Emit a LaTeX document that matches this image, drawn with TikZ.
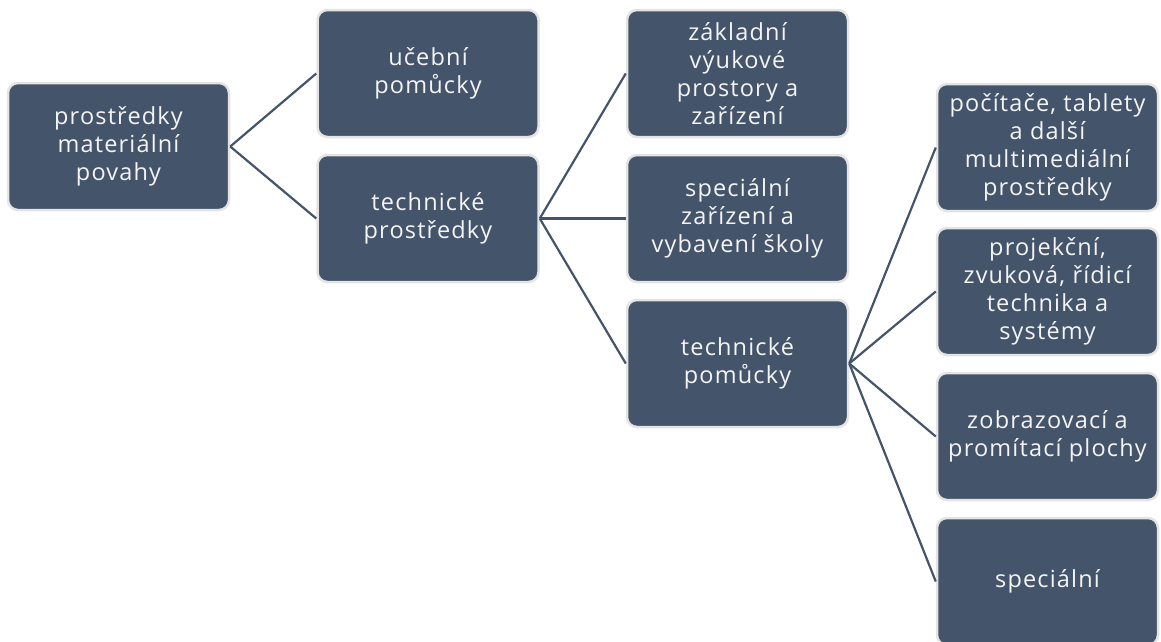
\documentclass[tikz,border=0pt]{standalone}
\usepackage{fontspec}
\setmainfont{Open Sans}[LetterSpace=5]
\definecolor{slate}{HTML}{44546A}
\definecolor{rim}{HTML}{E4E4E4}
\definecolor{label}{HTML}{F4F4F4}
\begin{document}
\begin{tikzpicture}[x=1pt,y=-1pt,
  box/.style={rectangle, rounded corners=10pt, fill=slate, draw=rim, line width=2.5pt,
    minimum width=221pt, minimum height=127pt, inner sep=0pt, align=center,
    text=label, font=\fontsize{23.5}{28}\selectfont},
  link/.style={draw=slate, line width=2.2pt}]
\clip (0,0) rectangle (1161,641);
% first level
\node[box] (A) at (118.5,146.5) {prostředky\\materiální\\povahy};
% second level
\node[box] (B) at (428,73.5) {učební\\pomůcky};
\node[box] (C) at (428,218.5) {technické\\prostředky};
% third level
\node[box] (D) at (737.5,73.5) {základní\\výukové\\prostory a\\zařízení};
\node[box] (E) at (737.5,218.5) {speciální\\zařízení a\\vybavení školy};
\node[box] (F) at (737.5,363.5) {technické\\pomůcky};
% fourth level
\node[box] (G) at (1047.5,147.5) {počítače, tablety\\a další\\multimediální\\prostředky};
\node[box] (H) at (1047.5,291.5) {projekční,\\zvuková, řídicí\\technika a\\systémy};
\node[box] (I) at (1047.5,436.5) {zobrazovací a\\promítací plochy};
\node[box] (J) at (1047.5,581.5) {speciální};
% connectors
\draw[link] (A.east) -- (B.west);
\draw[link] (A.east) -- (C.west);
\draw[link] (C.east) -- (D.west);
\draw[link] (C.east) -- (E.west);
\draw[link] (C.east) -- (F.west);
\draw[link] (F.east) -- (G.west);
\draw[link] (F.east) -- (H.west);
\draw[link] (F.east) -- (I.west);
\draw[link] (F.east) -- (J.west);
\end{tikzpicture}
\end{document}
